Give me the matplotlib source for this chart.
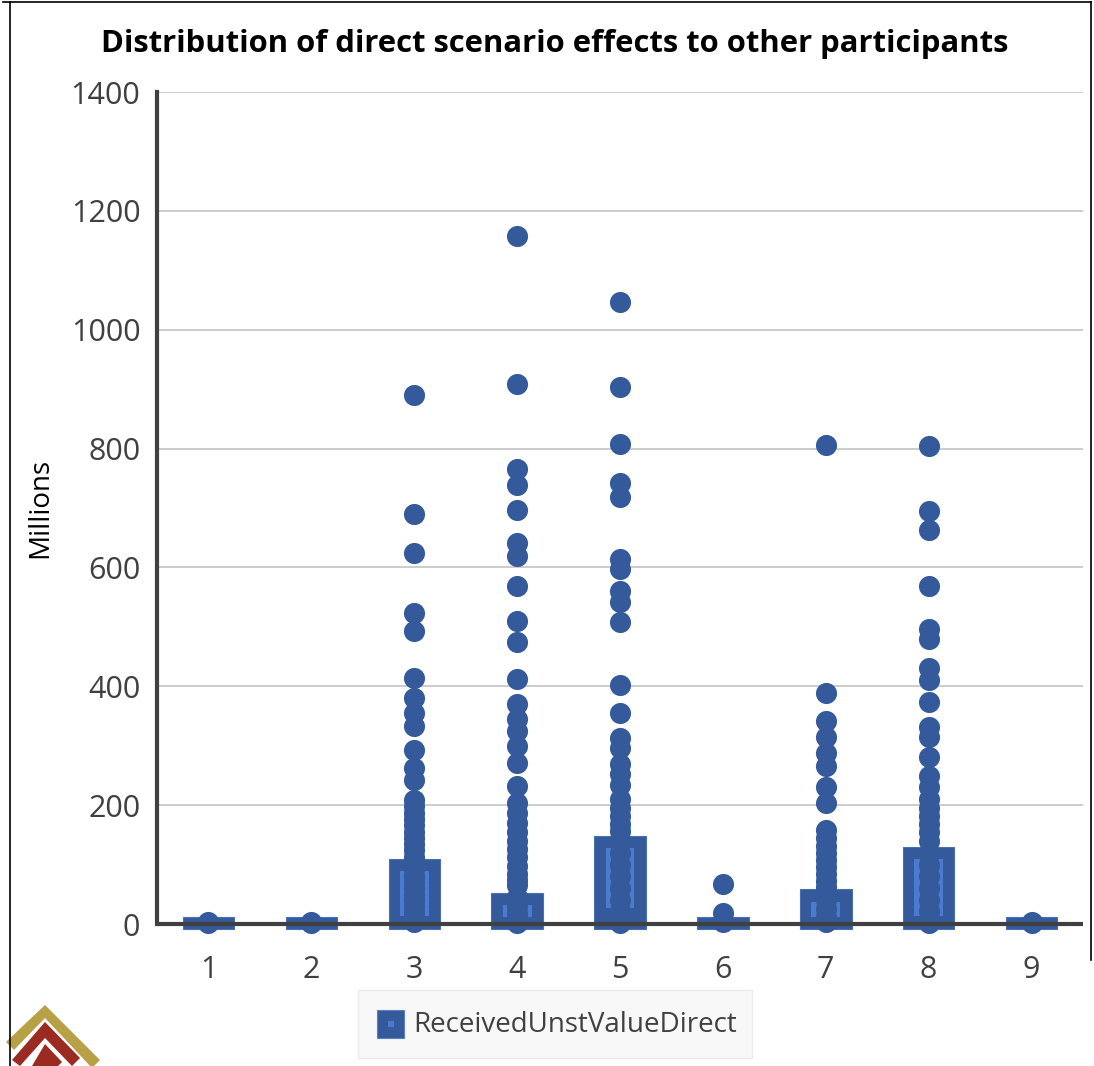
import matplotlib
matplotlib.use("Agg")
import matplotlib.pyplot as plt
from matplotlib.patches import Rectangle, Polygon
from matplotlib.lines import Line2D

# ---------------- data ----------------
categories = [1, 2, 3, 4, 5, 6, 7, 8, 9]
box_q1 = [-9, -9, -9, -9, -9, -9, -9, -9, -9]
box_q3 = [12, 12, 109, 52, 148, 12, 59, 130, 12]
stripe_lo = [None, None, 13, 12, 27, None, 12, 13, None]
stripe_hi = [None, None, 89, 32, 128, None, 37, 109, None]

points_1 = [3, 1]
points_2 = [3, 1]
points_3 = [890, 690, 624, 523, 493, 414, 380, 355, 333, 293, 262, 242, 209,
            198, 187, 176, 166, 155, 145, 134, 124, 113, 102, 92, 81, 70, 60,
            50, 40, 30, 20, 10, 3]
points_4 = [1158, 908, 765, 738, 696, 641, 619, 569, 510, 474, 412, 371, 345,
            325, 299, 271, 232, 203, 186, 170, 155, 140, 126, 112, 98, 84, 74,
            65, 45, 30, 18, 8, 2]
points_5 = [1047, 903, 807, 742, 719, 614, 597, 561, 541, 508, 403, 355, 313,
            296, 270, 253, 234, 211, 196, 182, 168, 156, 140, 120, 100, 80, 60,
            40, 22, 8, 2]
points_6 = [68, 18, 3]
points_7 = [806, 388, 341, 315, 287, 266, 231, 203, 158, 145, 132, 120, 108,
            96, 84, 72, 62, 40, 25, 12, 3]
points_8 = [804, 695, 663, 569, 497, 480, 430, 411, 374, 332, 315, 281, 249,
            231, 211, 196, 182, 168, 154, 140, 120, 100, 80, 60, 40, 22, 8, 2]
points_9 = [3, 1]
all_points = [points_1, points_2, points_3, points_4, points_5,
              points_6, points_7, points_8, points_9]

y_ticks = [0, 200, 400, 600, 800, 1000, 1200, 1400]
title = "Distribution of direct scenario effects to other participants"
y_label = "Millions"
series_name = "ReceivedUnstValueDirect"

# ---------------- style ----------------
BLUE = "#345a9c"
LIGHT = "#4a7bd0"
DARK = "#404040"
FONT = "Open Sans"

W, H = 1094, 1066
fig = plt.figure(figsize=(W / 100, H / 100), dpi=100)
ax = fig.add_axes([157 / W, 1 - 924 / H, (1083 - 157) / W, (924 - 92) / H])

ax.set_xlim(0.5, 9.5)
ax.set_ylim(0, 1400)

box_w = 0.5
for c, q1, q3, slo, shi, pts in zip(categories, box_q1, box_q3,
                                     stripe_lo, stripe_hi, all_points):
    ax.add_patch(Rectangle((c - box_w / 2, q1), box_w, q3 - q1,
                           facecolor=BLUE, edgecolor="#4a70b0", lw=0.8,
                           zorder=3, clip_on=False))
    if slo is not None:
        for off in (-0.14, 0.085):
            ax.add_patch(Rectangle((c + off, slo), 0.055, shi - slo,
                                   facecolor=LIGHT, edgecolor="none",
                                   zorder=4, clip_on=False))
    ax.plot([c] * len(pts), pts, linestyle="none", marker="o",
            markersize=15.2, markerfacecolor=BLUE, markeredgecolor=BLUE,
            markeredgewidth=0, zorder=5, clip_on=False)

ax.set_yticks(y_ticks)
ax.set_xticks(categories)
ax.set_xticklabels([str(c) for c in categories])
ax.grid(axis="y", color="#c8c8c8", lw=1.3, zorder=0)
ax.set_axisbelow(True)

for s in ("top", "right"):
    ax.spines[s].set_visible(False)
for s in ("left", "bottom"):
    ax.spines[s].set_color(DARK)
    ax.spines[s].set_linewidth(3)
    ax.spines[s].set_zorder(6)
ax.spines["bottom"].set_capstyle("butt")

ax.tick_params(axis="both", length=0, labelsize=22, labelcolor=DARK)
ax.tick_params(axis="x", pad=22)
ax.tick_params(axis="y", pad=12)
for lab in ax.get_xticklabels() + ax.get_yticklabels():
    lab.set_fontfamily(FONT)

ax.set_ylabel(y_label, fontsize=20, fontfamily=FONT, color="black",
              labelpad=12)

fig.text(555 / W, 1 - 44 / H, title, ha="center", va="center",
         fontsize=22.3, fontweight="bold", fontfamily=FONT, color="black")

# legend (manual, figure coordinates)
fig.patches.append(Rectangle((358 / W, 1 - 1058 / H), (752 - 358) / W,
                             (1058 - 990) / H, transform=fig.transFigure,
                             facecolor="#f8f8f8", edgecolor="#ebebeb",
                             lw=1))
fig.patches.append(Rectangle((377 / W, 1 - 1038 / H), 27 / W, 28 / H,
                             transform=fig.transFigure, facecolor=BLUE,
                             edgecolor="#5a80c0", lw=0.8))
fig.patches.append(Rectangle((388 / W, 1 - 1027 / H), 6 / W, 6 / H,
                             transform=fig.transFigure, facecolor=LIGHT,
                             edgecolor="none"))
fig.text(413 / W, 1 - 1025 / H, series_name, ha="left", va="center",
         fontsize=20, fontfamily=FONT, color=DARK)

# decorative logo fragment (bottom left)
def fp(pts):
    return [(x / W, 1 - y / H) for x, y in pts]

fig.patches.append(Polygon(fp([(45, 1005), (100, 1060), (92, 1068),
                               (45, 1018), (14, 1050), (6, 1042)]),
                           closed=True, transform=fig.transFigure,
                           facecolor="#b8a046", edgecolor="none"))
fig.patches.append(Polygon(fp([(45, 1022), (80, 1058), (72, 1066),
                               (45, 1038), (20, 1066), (12, 1060)]),
                           closed=True, transform=fig.transFigure,
                           facecolor="#9a2a22", edgecolor="none"))
fig.patches.append(Polygon(fp([(45, 1044), (62, 1062), (58, 1066),
                               (32, 1066)]),
                           closed=True, transform=fig.transFigure,
                           facecolor="#9a2a22", edgecolor="none"))

# frame
fig.add_artist(Line2D([3 / W, 1091 / W], [1 - 2 / H, 1 - 2 / H],
                      transform=fig.transFigure, color="black", lw=1.2))
fig.add_artist(Line2D([10 / W, 10 / W], [0, 1 - 2 / H],
                      transform=fig.transFigure, color="black", lw=1.2))
fig.add_artist(Line2D([1091 / W, 1091 / W], [1 - 960 / H, 1 - 2 / H],
                      transform=fig.transFigure, color="black", lw=1.2))

fig.savefig("out.png", dpi=100, facecolor="white")
